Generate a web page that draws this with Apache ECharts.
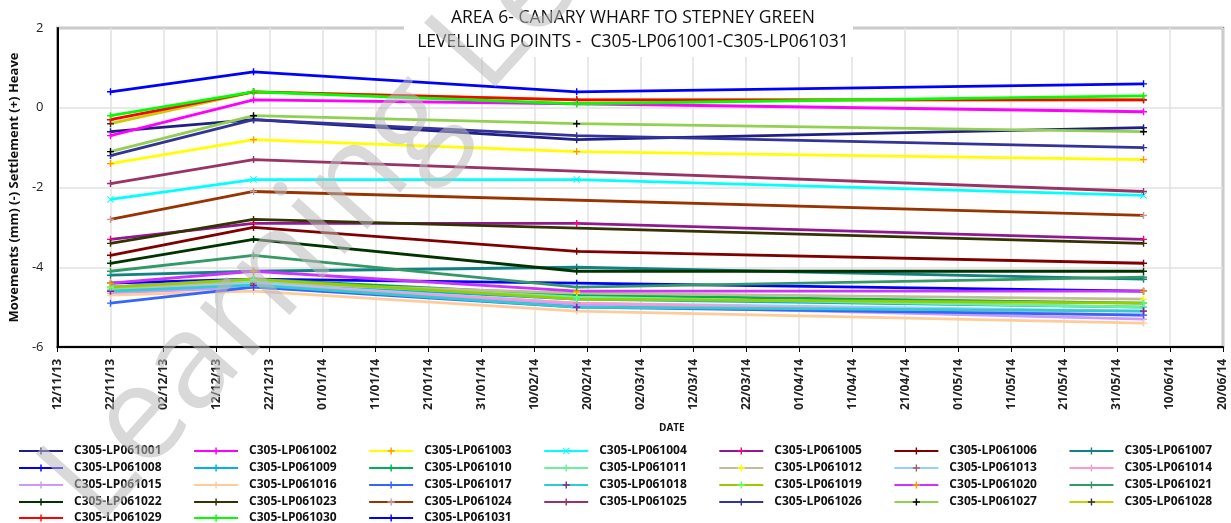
<!DOCTYPE html>
<html>
<head>
<meta charset="utf-8">
<script src="https://cdn.jsdelivr.net/npm/echarts@6/dist/echarts.min.js"></script>
<style>html,body{margin:0;padding:0;background:#fff}#c{width:1231px;height:523px}</style>
</head>
<body>
<div id="c"></div>
<script>
// ---------- data ----------
const startDate = '2013-11-12';
const surveyDates = ['2013-11-22', '2013-12-19', '2014-02-18', '2014-06-05'];
const xTickLabels = ['12/11/13','22/11/13','02/12/13','12/12/13','22/12/13','01/01/14','11/01/14','21/01/14','31/01/14','10/02/14','20/02/14','02/03/14','12/03/14','22/03/14','01/04/14','11/04/14','21/04/14','01/05/14','11/05/14','21/05/14','31/05/14','10/06/14','20/06/14'];
const yTicks = [-6, -4, -2, 0, 2];

const LP061001 = [-0.6, -0.3, -0.8, -0.5];
const LP061002 = [-0.7, 0.2, 0.1, -0.1];
const LP061003 = [-1.4, -0.8, -1.1, -1.3];
const LP061004 = [-2.3, -1.8, -1.8, -2.2];
const LP061005 = [-3.3, -2.9, -2.9, -3.3];
const LP061006 = [-3.7, -3.0, -3.6, -3.9];
const LP061007 = [-4.2, -4.1, -4.0, -4.3];
const LP061008 = [-4.4, -4.3, -4.4, -4.6];
const LP061009 = [-4.6, -4.4, -4.8, -5.0];
const LP061010 = [-4.5, -4.3, -4.7, -4.9];
const LP061011 = [-4.55, -4.35, -4.75, -5.0];
const LP061012 = [-4.5, -4.4, -4.65, -4.8];
const LP061013 = [-4.6, -4.4, -4.9, -5.1];
const LP061014 = [-4.6, -4.45, -4.9, -5.2];
const LP061015 = [-4.65, -4.5, -4.95, -5.3];
const LP061016 = [-4.7, -4.6, -5.1, -5.4];
const LP061017 = [-4.9, -4.5, -5.0, -5.2];
const LP061018 = [-4.6, -4.45, -5.0, -5.1];
const LP061019 = [-4.5, -4.3, -4.8, -4.9];
const LP061020 = [-4.4, -4.1, -4.6, -4.6];
const LP061021 = [-4.1, -3.7, -4.5, -4.25];
const LP061022 = [-3.9, -3.3, -4.1, -4.1];
const LP061023 = [-3.4, -2.8, null, -3.4];
const LP061024 = [-2.8, -2.1, null, -2.7];
const LP061025 = [-1.9, -1.3, null, -2.1];
const LP061026 = [-1.2, -0.3, -0.7, -1.0];
const LP061027 = [-1.1, -0.2, -0.4, -0.6];
const LP061028 = [-0.4, 0.4, 0.2, 0.2];
const LP061029 = [-0.3, 0.4, 0.2, 0.2];
const LP061030 = [-0.2, 0.4, 0.1, 0.3];
const LP061031 = [0.4, 0.9, 0.4, 0.6];

const seriesNames = ['C305-LP061001','C305-LP061002','C305-LP061003','C305-LP061004','C305-LP061005','C305-LP061006','C305-LP061007','C305-LP061008','C305-LP061009','C305-LP061010','C305-LP061011','C305-LP061012','C305-LP061013','C305-LP061014','C305-LP061015','C305-LP061016','C305-LP061017','C305-LP061018','C305-LP061019','C305-LP061020','C305-LP061021','C305-LP061022','C305-LP061023','C305-LP061024','C305-LP061025','C305-LP061026','C305-LP061027','C305-LP061028','C305-LP061029','C305-LP061030','C305-LP061031'];
const seriesValues = [LP061001,LP061002,LP061003,LP061004,LP061005,LP061006,LP061007,LP061008,LP061009,LP061010,LP061011,LP061012,LP061013,LP061014,LP061015,LP061016,LP061017,LP061018,LP061019,LP061020,LP061021,LP061022,LP061023,LP061024,LP061025,LP061026,LP061027,LP061028,LP061029,LP061030,LP061031];

// ---------- styles ----------
const lineColors = ['#1F1F87','#FF00FF','#FFFF00','#00FFFF','#901890','#800000','#108282','#0000FF','#00B0F0','#00B050','#6CF09A','#C4BC96','#99CCFF','#FF99CC','#CC99FF','#FFCC99','#3366FF','#33CCCC','#99CC00','#CC33FF','#339966','#003300','#333300','#993300','#993366','#333399','#92D050','#CCCC00','#FF0000','#00FF00','#0000FF'];
const markerColors = ['#1F1F87','#FF00FF','#FF9900','#00FFFF','#FF0080','#800000','#108282','#0000FF','#00B0F0','#00B050','#6CF09A','#FFFF00','#996666','#FF99CC','#CC99FF','#FFCC99','#3366FF','#7030A0','#66FF66','#FF9900','#339966','#003300','#333300','#CC9999','#993366','#333399','#000000','#333333','#FF0000','#00FF00','#0000FF'];

const DAY = 86400000;
const t0 = Date.parse(startDate);
const dayOf = d => (Date.parse(d) - t0) / DAY;
const plusSym = 'path://M4,0H6V4H10V6H6V10H4V6H0V4H4Z';
const xSym = 'path://M1,0L5,4L9,0L10,1L6,5L10,9L9,10L5,6L1,10L0,9L4,5L0,1Z';

const series = seriesNames.map((n, i) => ({
  name: n,
  type: 'line',
  data: seriesValues[i].map((v, j) => [dayOf(surveyDates[j]), v]),
  connectNulls: true,
  symbol: i === 3 ? xSym : plusSym,
  symbolSize: 7,
  showAllSymbol: true,
  lineStyle: { color: lineColors[i], width: 2.8 },
  itemStyle: { color: markerColors[i] },
  emphasis: { disabled: true },
  animation: false
}));

const rowTops = [440, 457, 474, 491, 507];
const legends = rowTops.map((top, r) => ({
  left: 13, top: top, orient: 'horizontal', padding: 5,
  itemWidth: 44, itemHeight: 9, itemGap: 31.5,
  data: seriesNames.slice(r * 7, r * 7 + 7),
  selectedMode: false,
  textStyle: { fontFamily: 'Open Sans', fontSize: 12, fontWeight: 'bold', color: '#111', padding: [0, 0, 0, 6] }
}));

const chart = echarts.init(document.getElementById('c'));
chart.setOption({
  animation: false,
  backgroundColor: '#fff',
  title: {
    text: 'AREA 6- CANARY WHARF TO STEPNEY GREEN\nLEVELLING POINTS -  C305-LP061001-C305-LP061031',
    left: 628, top: 1, textAlign: 'center',
    textStyle: { fontFamily: 'Open Sans', fontSize: 17.5, fontWeight: 'normal', color: '#111', lineHeight: 24 },
    z: 8
  },
  grid: { left: 53, right: 8, top: 28, bottom: 176, show: true, borderColor: '#8c8c8c', borderWidth: 2.5, backgroundColor: 'transparent' },
  xAxis: {
    type: 'value', min: 0, max: 220, interval: 10,
    axisLine: { show: true, onZero: false, lineStyle: { color: '#000', width: 2 } },
    axisTick: { show: true, length: 5, lineStyle: { color: '#000', width: 1 } },
    splitLine: { show: true, lineStyle: { color: '#e2e2e2', width: 1.5 } },
    axisLabel: { rotate: 90, margin: 12, fontFamily: 'Open Sans', fontSize: 12, fontWeight: 'bold', color: '#222',
      formatter: v => xTickLabels[Math.round(v / 10)] }
  },
  yAxis: {
    type: 'value', min: -6, max: 2, interval: 2,
    name: 'Movements (mm) (-) Settlement (+) Heave', nameLocation: 'middle', nameGap: 18, nameRotate: 90,
    nameTextStyle: { fontFamily: 'Open Sans', fontSize: 13, fontWeight: 'bold', color: '#111' },
    axisLine: { show: true, lineStyle: { color: '#000', width: 2 } },
    axisTick: { show: false },
    splitLine: { show: true, lineStyle: { color: '#e2e2e2', width: 1.5 } },
    axisLabel: { margin: 14, fontFamily: 'Open Sans', fontSize: 13, color: '#222', formatter: v => String(v) }
  },
  legend: legends,
  graphic: [
    { type: 'rect', left: 404, top: 0, shape: { width: 449, height: 57 }, style: { fill: '#fff' }, z: 7 },
    { type: 'text', left: 659, top: 423, style: { text: 'DATE', font: 'bold 10px Open Sans', fill: '#111' }, z: 7 },
    { type: 'text', x: 70, y: 502, rotation: 48 * Math.PI / 180,
      style: { text: 'Learning Legacy', font: '134px Open Sans', fill: 'rgba(185,185,185,0.55)', textVerticalAlign: 'middle', textAlign: 'left' }, z: 100 }
  ],
  series: series
});
</script>
</body>
</html>
